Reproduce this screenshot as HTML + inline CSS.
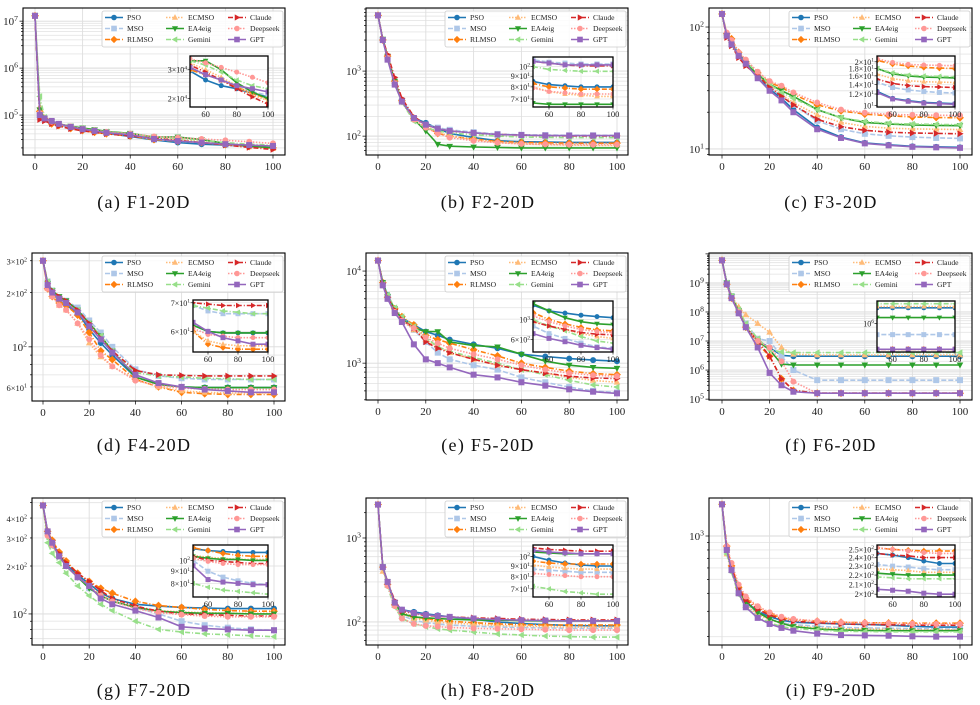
<!DOCTYPE html>
<html><head><meta charset="utf-8">
<style>
html,body{margin:0;padding:0;background:#fff;}
svg{display:block;font-family:"Liberation Serif","DejaVu Serif",serif;}
</style></head>
<body>
<svg id="fig" width="980" height="705" viewBox="0 0 980 705" xmlns="http://www.w3.org/2000/svg"></svg>
<script>
// ---------- data ----------
const ITER = [0,2,4,7,10,15,20,25,30,40,50,60,70,80,90,100];
const NAMES = ["PSO","MSO","RLMSO","ECMSO","EA4eig","Gemini","Claude","Deepseek","GPT"];
const CAPTIONS = ["(a) F1-20D","(b) F2-20D","(c) F3-20D","(d) F4-20D","(e) F5-20D","(f) F6-20D","(g) F7-20D","(h) F8-20D","(i) F9-20D"];
const X_TICKS = [0,20,40,60,80,100];
const INSET_X_TICKS = [60,80,100];

const F1 = [
[1.3e7,1.1e5,8e4,7e4,6.2e4,5.4e4,4.8e4,4.4e4,4.1e4,3.5e4,2.95e4,2.6e4,2.4e4,2.3e4,2.15e4,2.05e4],
[1.3e7,9e4,8e4,7e4,6.2e4,5.5e4,4.9e4,4.5e4,4.2e4,3.7e4,3.0e4,2.8e4,2.6e4,2.4e4,2.2e4,2.1e4],
[1.3e7,1.2e5,8.5e4,6.5e4,6e4,5.2e4,4.7e4,4.3e4,4.0e4,3.6e4,3.0e4,2.8e4,2.6e4,2.35e4,2.15e4,2.0e4],
[1.3e7,1.5e5,8.5e4,7e4,6.3e4,5.6e4,5e4,4.6e4,4.3e4,3.9e4,3.3e4,3.0e4,2.7e4,2.4e4,2.1e4,1.95e4],
[1.3e7,1.3e5,8.5e4,7.2e4,6.5e4,5.8e4,5.3e4,4.9e4,4.5e4,4.1e4,3.4e4,3.4e4,3.0e4,2.5e4,2.2e4,2.0e4],
[1.3e7,2.5e5,9e4,7.3e4,6.5e4,5.7e4,5.1e4,4.7e4,4.4e4,4.0e4,3.4e4,3.2e4,2.9e4,2.6e4,2.4e4,2.3e4],
[1.3e7,8e4,7.5e4,6.5e4,5.8e4,5.1e4,4.6e4,4.3e4,4.0e4,3.6e4,3.2e4,2.9e4,2.6e4,2.3e4,2.05e4,1.85e4],
[1.3e7,1.1e5,8.5e4,7.2e4,6.5e4,5.7e4,5.1e4,4.7e4,4.4e4,4.0e4,3.5e4,3.3e4,3.1e4,2.9e4,2.7e4,2.5e4],
[1.3e7,1e5,8.5e4,7.5e4,6.5e4,5.6e4,5e4,4.6e4,4.2e4,3.8e4,3.1e4,2.8e4,2.6e4,2.4e4,2.3e4,2.2e4]];
const F2 = [
[7200,3000,1700,700,360,190,160,130,110,95,85,82,81,80,80,80],
[7200,3000,1600,650,350,190,150,135,125,115,108,105,104,103,103,103],
[7200,3000,1700,700,350,185,140,110,100,90,83,80,79,78,78,78],
[7200,3100,1700,700,350,185,145,115,100,88,80,76,74,73,72,72],
[7200,3100,1700,700,340,180,120,75,70,68,67,66,66,66,66,66],
[7200,3000,1600,650,330,170,135,120,112,105,100,97,96,95,95,95],
[7200,3100,1800,800,380,200,150,130,120,112,106,104,102,101,101,101],
[7200,3000,1600,650,340,180,135,110,95,85,79,76,75,74,74,74],
[7200,3000,1500,620,340,190,150,130,120,112,106,104,102,102,102,102]];
const F3 = [
[128,85,75,60,52,40,31,26,21,15,12.5,11.2,10.8,10.5,10.4,10.3],
[128,85,72,58,50,40,32,27,23,17,14.5,13.3,12.8,12.5,12.3,12.2],
[128,88,80,62,52,42,35,32,28,23,20.5,19.3,18.7,18.3,18.1,18],
[128,85,72,58,50,40,33,28,24,19,16.5,15.3,14.8,14.6,14.5,14.4],
[128,85,72,58,50,41,34,30,27,21,18,16.5,16,15.7,15.6,15.5],
[128,85,75,60,52,42,34,29,26,21,18,16.8,16.2,16,15.9,15.8],
[128,82,70,56,48,40,32,27,23,17.5,15.2,14.2,13.7,13.5,13.4,13.3],
[128,90,78,62,54,43,36,33,29,24,21,19.8,19.2,19,18.9,18.8],
[128,85,72,58,50,38,30,25,20,14.5,12.3,11.1,10.7,10.4,10.3,10.2]];
const F4 = [
[300,220,200,180,170,155,125,105,90,68,62,60,59.5,59.5,59.5,59.5],
[300,230,205,185,180,165,140,120,100,75,69,67,66,66,66,66],
[300,210,190,175,170,150,120,95,85,66,60,56,55,54.5,54.5,54.5],
[300,210,190,170,160,135,105,88,78,66,60,57,56,55.5,55.5,55.5],
[300,225,205,190,180,160,135,115,95,68,62,60,59.5,59.5,59.5,59.5],
[300,230,205,185,175,160,135,115,95,72,69,68,67,66.5,66,66],
[300,225,205,190,180,160,135,112,95,74,70,69.5,69,69,69,69],
[300,210,190,170,160,135,110,90,78,65,61,59,58.5,58,58,58],
[300,220,200,185,175,155,130,110,93,70,63,60,58,57,56,56]];
const F5 = [
[13000,7500,5500,3800,3100,2600,2200,2000,1800,1600,1450,1250,1180,1120,1080,1050],
[13000,7000,5000,3700,3000,2300,1700,1300,1100,950,850,700,620,550,500,480],
[13000,7500,5200,3900,3200,2600,2000,1800,1650,1400,1200,1000,900,820,770,750],
[13000,7200,5000,3700,2900,2300,1800,1500,1300,1100,950,850,780,700,650,620],
[13000,7500,5300,3900,3000,2400,2200,2200,1700,1550,1500,1250,1050,950,900,880],
[13000,7200,5500,4000,3200,2500,1900,1500,1350,1150,1000,850,750,650,580,550],
[13000,7300,5200,3800,3000,2400,1700,1450,1300,1100,950,850,780,720,690,680],
[13000,7000,5000,3600,2900,2400,1900,1650,1450,1250,1100,950,850,780,740,720],
[13000,7000,5000,3500,2800,1600,1100,1000,900,750,700,620,570,520,490,470]];
const F6 = [
[6e9,1e9,3.5e8,1.1e8,3e7,1e7,6e6,3.2e6,3e6,3e6,3e6,3e6,3e6,3e6,3e6,3e6],
[6e9,1e9,3.5e8,1.1e8,4e7,1.2e7,1e7,3e6,1e6,4.5e5,4.5e5,4.5e5,4.5e5,4.5e5,4.5e5,4.5e5],
[6e9,9e8,3e8,1e8,3e7,8e6,3e6,5e5,2e5,1.6e5,1.6e5,1.6e5,1.6e5,1.6e5,1.6e5,1.6e5],
[6e9,1e9,3.5e8,1.5e8,8e7,4e7,2e7,6e6,3.5e6,3.3e6,3.3e6,3.3e6,3.3e6,3.3e6,3.3e6,3.3e6],
[6e9,1e9,3.5e8,1.1e8,3e7,1e7,5e6,1.6e6,1.5e6,1.5e6,1.5e6,1.5e6,1.5e6,1.5e6,1.5e6,1.5e6],
[6e9,1e9,3.5e8,1.2e8,4e7,1.2e7,5e6,4.2e6,4e6,4e6,4e6,4e6,4e6,4e6,4e6,4e6],
[6e9,9e8,3e8,1e8,3e7,1e7,3e6,5e5,2e5,1.6e5,1.6e5,1.6e5,1.6e5,1.6e5,1.6e5,1.6e5],
[6e9,9e8,3e8,1e8,3e7,1e7,6e6,2e6,4e5,1.6e5,1.6e5,1.6e5,1.6e5,1.6e5,1.6e5,1.6e5],
[6e9,9e8,3e8,9e7,3e7,6e6,8e5,3e5,1.8e5,1.6e5,1.6e5,1.6e5,1.6e5,1.6e5,1.6e5,1.6e5]];
const F7 = [
[480,330,280,235,205,175,155,135,125,115,112,110,109,108,108,108],
[480,320,270,230,200,170,145,130,120,110,100,90,85,82,80,79],
[480,330,290,245,215,180,160,145,135,120,113,110,107,105,104,104],
[480,320,270,230,200,170,150,132,122,110,105,103,102,101,101,101],
[480,310,270,235,200,170,145,130,120,110,104,102,101,101,100,100],
[480,280,240,210,180,150,130,115,105,90,80,77,75,74,73,72],
[480,320,280,240,210,180,160,140,125,112,104,100,99,98,97,97],
[480,310,270,230,200,170,150,130,120,108,102,99,97,96,96,96],
[480,330,280,230,200,170,150,125,115,105,95,83,81,80,79,79]];
const F8 = [
[2500,450,280,170,140,132,125,120,115,108,100,96,93,91,90,90],
[2500,450,280,160,120,105,98,95,92,89,87,86,85,84,84,84],
[2500,450,280,160,130,115,110,105,102,98,95,93,92,92,92,92],
[2500,400,300,160,125,110,105,100,97,94,91,89,88,87,87,87],
[2500,450,300,170,125,115,112,110,108,106,105,104,103,103,103,103],
[2500,450,260,150,110,95,88,83,80,76,72,70,68,67,66,66],
[2500,450,300,180,135,125,120,117,115,112,110,108,107,106,106,106],
[2500,450,270,155,110,95,90,88,86,84,83,82,81,80,80,80],
[2500,450,300,170,140,128,122,118,115,110,107,105,104,103,103,103]];
const F9 = [
[1660,800,600,420,350,300,275,260,252,248,245,243,240,236,233,233],
[1660,800,580,410,340,290,265,250,242,236,232,230,229,227,226,226],
[1660,850,620,440,370,320,290,270,262,256,252,250,249,248,248,248],
[1660,750,580,400,330,285,262,248,238,230,227,226,225,223,223,223],
[1660,800,580,420,350,295,265,248,235,226,222,221,220,220,220,220],
[1660,750,560,390,320,275,250,235,228,222,218,217,216,216,216,216],
[1660,800,600,430,360,310,282,265,256,250,245,243,242,240,240,240],
[1660,850,650,460,380,325,295,275,265,257,252,250,248,246,245,245],
[1660,800,580,400,320,270,245,230,220,210,205,204,203,201,200,200]];
const ALL = [F1,F2,F3,F4,F5,F6,F7,F8,F9];

// main y tick labels: [mantissa, exponent]
const YT1=[[1,7],[1,6],[1,5]], YT2=[[1,3],[1,2]], YT3=[[1,2],[1,1]];
const YT4=[[3,2],[2,2],[1,2],[6,1]], YT5=[[1,4],[1,3]], YT6=[[1,9],[1,8],[1,7],[1,6],[1,5]];
const YT7=[[4,2],[3,2],[2,2],[1,2]], YT8=[[1,3],[1,2]], YT9=[[1,3]];
const YTICKS=[YT1,YT2,YT3,YT4,YT5,YT6,YT7,YT8,YT9];
// inset y tick labels
const IT1=[[3,4],[2,4]], IT2=[[1,2],[9,1],[8,1],[7,1]], IT3=[[2.2,1],[2,1],[1.8,1],[1.6,1],[1.4,1],[1.2,1],[1,1]];
const IT4=[[7,1],[6,1]], IT5=[[1,3],[6,2]], IT6=[[1,6]];
const IT7=[[1,2],[9,1],[8,1]], IT8=[[1,2],[9,1],[8,1],[7,1]], IT9=[[2.5,2],[2.4,2],[2.3,2],[2.2,2],[2.1,2],[2,2]];
const ITICKS=[IT1,IT2,IT3,IT4,IT5,IT6,IT7,IT8,IT9];

// ---------- layout (not data) ----------
const PANELS = [
 {L:23,R:285,T:8,B:155,x0:35,x1:273,ymin:4.15,ymax:7.28,ins:[190,56,268,107],cap:[144,208]},
 {L:366,R:628,T:8,B:155,x0:378,x1:617,ymin:1.71,ymax:3.97,ins:[533,57,613,107],cap:[488,208]},
 {L:709,R:972,T:8,B:155,x0:722,x1:960,ymin:0.95,ymax:2.156,ins:[877,56,955,107],cap:[831,208]},
 {L:32,R:285,T:253,B:401,x0:43,x1:274,ymin:1.70,ymax:2.52,ins:[193,300,268,352],cap:[144,451]},
 {L:366,R:628,T:253,B:400,x0:378,x1:617,ymin:2.60,ymax:4.196,ins:[533,301,613,352],cap:[488,451]},
 {L:709,R:972,T:253,B:400,x0:722,x1:960,ymin:4.97,ymax:10.03,ins:[877,301,955,352],cap:[831,451]},
 {L:32,R:285,T:498,B:645,x0:43,x1:274,ymin:1.805,ymax:2.728,ins:[193,545,268,597],cap:[144,696]},
 {L:366,R:628,T:498,B:645,x0:378,x1:617,ymin:1.726,ymax:3.476,ins:[533,545,613,597],cap:[488,696]},
 {L:709,R:972,T:498,B:645,x0:722,x1:960,ymin:2.243,ymax:3.264,ins:[877,545,955,597],cap:[831,696]}
];
const STYLES = [
 {c:"#1f77b4",d:"",m:"circle"},
 {c:"#aec7e8",d:"5,2",m:"square"},
 {c:"#ff7f0e",d:"5,2,1,2",m:"diamond"},
 {c:"#ffbb78",d:"1.5,1.5",m:"tri-up"},
 {c:"#2ca02c",d:"",m:"tri-down"},
 {c:"#98df8a",d:"5,2,1,2",m:"tri-left"},
 {c:"#d62728",d:"5,2,1,2",m:"tri-right"},
 {c:"#ff9896",d:"1.5,1.5",m:"circle"},
 {c:"#9467bd",d:"",m:"square"}
];
const NS="http://www.w3.org/2000/svg";
const svg=document.getElementById('fig');
function mk(tag,attrs,parent){const e=document.createElementNS(NS,tag);for(const k in attrs)e.setAttribute(k,attrs[k]);(parent||svg).appendChild(e);return e;}
function marker(g,type,x,y,s,col){
  let e;
  if(type==="circle"){e=mk('circle',{cx:x,cy:y,r:s},g);}
  else if(type==="square"){e=mk('rect',{x:x-s,y:y-s,width:2*s,height:2*s},g);}
  else{
    let p;
    if(type==="diamond")p=[[0,-1.3],[1.3,0],[0,1.3],[-1.3,0]];
    else if(type==="tri-up")p=[[0,-1.2],[1.1,0.8],[-1.1,0.8]];
    else if(type==="tri-down")p=[[0,1.2],[1.1,-0.8],[-1.1,-0.8]];
    else if(type==="tri-left")p=[[-1.2,0],[0.8,-1.1],[0.8,1.1]];
    else p=[[1.2,0],[-0.8,-1.1],[-0.8,1.1]];
    e=mk('polygon',{points:p.map(q=>(x+q[0]*s)+','+(y+q[1]*s)).join(' ')},g);
  }
  e.setAttribute('fill',col);
  return e;
}
function sciText(parent,x,y,m,ex,fs,anchor){
  const t=mk('text',{x:x,y:y,'font-size':fs,'text-anchor':anchor||'end',fill:'#222'},parent);
  t.appendChild(document.createTextNode((m===1?'':m+'\u00d7')+'10'));
  const s=mk('tspan',{'font-size':fs*0.7,dy:-fs*0.4},t);
  s.textContent=ex;
  return t;
}

PANELS.forEach((P,pi)=>{
  const data=ALL[pi];
  const g=mk('g',{});
  
  
  const sx=v=>P.x0+(v-ITER[0])/(100-ITER[0])*(P.x1-P.x0);
  const sy=v=>P.T+(P.ymax-Math.log10(v))/(P.ymax-P.ymin)*(P.B-P.T);
  const cid='clip'+pi;
  const cp=mk('clipPath',{id:cid},g);mk('rect',{x:P.L,y:P.T,width:P.R-P.L,height:P.B-P.T},cp);
  const grid=mk('g',{},g);
  
  
  for(let e=Math.floor(P.ymin);e<=Math.ceil(P.ymax);e++){
    for(let k=1;k<10;k++){
      const v=k*Math.pow(10,e),lv=Math.log10(v);
      if(lv<P.ymin||lv>P.ymax)continue;
      const y=sy(v);
      mk('line',{x1:P.L,x2:P.R,y1:y,y2:y,stroke:k===1?'#d9d9d9':'#e6e6e6','stroke-width':0.9},grid);
      mk('line',{x1:P.L-(k===1?3.5:2),x2:P.L,y1:y,y2:y,stroke:'#000','stroke-width':0.7},g);
    }
  }
  X_TICKS.forEach(t=>{
    const x=sx(t);
    mk('line',{x1:x,x2:x,y1:P.T,y2:P.B,stroke:'#dedede','stroke-width':0.9},grid);
    mk('line',{x1:x,x2:x,y1:P.B,y2:P.B+3.5,stroke:'#000','stroke-width':0.7},g);
    const tl=mk('text',{x:x,y:P.B+15,'font-size':11,'text-anchor':'middle',fill:'#222'},g);
    tl.textContent=t;
    
    
  });
  YTICKS[pi].forEach(([m,ex])=>{
    const t=sciText(g,P.L-5,sy(m*Math.pow(10,ex))+4,m,ex,m===1?11:8.5);
    
    
  });
  const sg=mk('g',{'clip-path':'url(#'+cid+')'},g);
  data.forEach((ser,si)=>{
    const st=STYLES[si];
    const lg=mk('g',{},sg);
    
    
    const pts=ser.map((v,i)=>sx(ITER[i]).toFixed(1)+','+sy(v).toFixed(1)).join(' ');
    mk('polyline',{points:pts,fill:'none',stroke:st.c,'stroke-width':1.6,'stroke-dasharray':st.d},lg);
    ser.forEach((v,i)=>marker(lg,st.m,sx(ITER[i]),sy(v),3,st.c));
  });
  mk('rect',{x:P.L,y:P.T,width:P.R-P.L,height:P.B-P.T,fill:'none',stroke:'#000','stroke-width':1.1},g);
  // legend
  const lgx=P.R-183,lgy=P.T+3;
  const leg=mk('g',{},g);
  
  
  mk('rect',{x:lgx,y:lgy,width:181,height:36,rx:2,fill:'#fff','fill-opacity':0.85,stroke:'#ccc','stroke-width':0.8},leg);
  NAMES.forEach((n,si)=>{
    const col=Math.floor(si/3),row=si%3,st=STYLES[si];
    const ex=lgx+[3,64,126][col],ey=lgy+6.5+row*11;
    const en=mk('g',{},leg);
    
    
    mk('line',{x1:ex,x2:ex+18,y1:ey,y2:ey,stroke:st.c,'stroke-width':1.5,'stroke-dasharray':st.d},en);
    marker(en,st.m,ex+9,ey,2.8,st.c);
    const t=mk('text',{x:ex+22,y:ey+2.7,'font-size':7.6,fill:'#222'},en);
    t.textContent=n;
  });
  // inset
  const [iL,iT,iR,iB]=P.ins;
  const sub=[];data.forEach(s=>s.forEach((v,i)=>{if(ITER[i]>=50)sub.push(Math.log10(v));}));
  let lo=Math.min(...sub),hi=Math.max(...sub),pad=(hi-lo)*0.06||0.05;lo-=pad;hi+=pad;
  const ix=v=>iL+(v-50)/50*(iR-iL);
  const iy=v=>iT+(hi-Math.log10(v))/(hi-lo)*(iB-iT);
  const ig=mk('g',{},g);
  
  
  mk('rect',{x:iL,y:iT,width:iR-iL,height:iB-iT,fill:'#fff'},ig);
  const icid='iclip'+pi;
  const icp=mk('clipPath',{id:icid},ig);mk('rect',{x:iL,y:iT,width:iR-iL,height:iB-iT},icp);
  INSET_X_TICKS.forEach(t=>{
    const x=ix(t);
    mk('line',{x1:x,x2:x,y1:iT,y2:iB,stroke:'#e4e4e4','stroke-width':0.7},ig);
    mk('line',{x1:x,x2:x,y1:iB,y2:iB+2.5,stroke:'#000','stroke-width':0.6},ig);
    const tl=mk('text',{x:x,y:iB+10,'font-size':8.5,'text-anchor':'middle',fill:'#222'},ig);
    tl.textContent=t;
  });
  ITICKS[pi].forEach(([m,ex])=>{
    const v=m*Math.pow(10,ex),lv=Math.log10(v);
    if(lv<lo||lv>hi)return;
    const y=iy(v);
    mk('line',{x1:iL,x2:iR,y1:y,y2:y,stroke:'#e4e4e4','stroke-width':0.7},ig);
    mk('line',{x1:iL-2.5,x2:iL,y1:y,y2:y,stroke:'#000','stroke-width':0.6},ig);
    sciText(ig,iL-3,y+3,m,ex,8);
  });
  const isg=mk('g',{'clip-path':'url(#'+icid+')'},ig);
  data.forEach((ser,si)=>{
    const st=STYLES[si];
    const pts=ser.map((v,i)=>ix(ITER[i]).toFixed(1)+','+iy(v).toFixed(1)).join(' ');
    mk('polyline',{points:pts,fill:'none',stroke:st.c,'stroke-width':1.6,'stroke-dasharray':st.d},isg);
    ser.forEach((v,i)=>{if(ITER[i]>=50)marker(isg,st.m,ix(ITER[i]),iy(v),2.5,st.c);});
  });
  mk('rect',{x:iL,y:iT,width:iR-iL,height:iB-iT,fill:'none',stroke:'#000','stroke-width':1.3},ig);
  const cap=mk('text',{x:P.cap[0],y:P.cap[1],'font-size':18,'letter-spacing':1.3,'text-anchor':'middle',fill:'#111'},svg);
  cap.textContent=CAPTIONS[pi];
  
  
});
</script>
</body></html>
